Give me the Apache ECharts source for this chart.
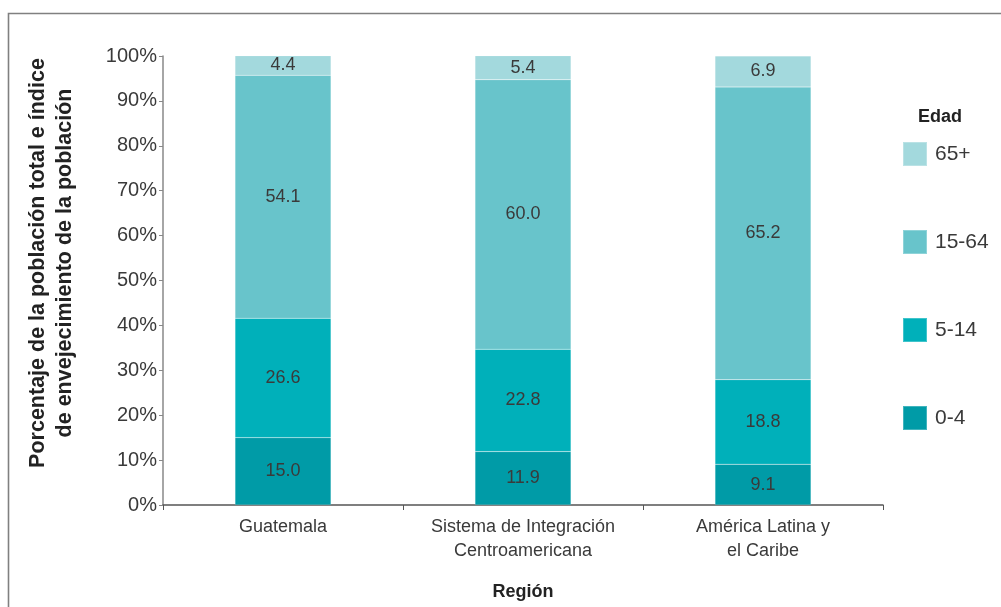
<!DOCTYPE html>
<html>
<head>
<meta charset="utf-8">
<script src="https://cdn.jsdelivr.net/npm/echarts@6/dist/echarts.min.js"></script>
<style>
  html, body { margin: 0; padding: 0; background: #fff; }
  #chart { width: 1001px; height: 607px; }
</style>
</head>
<body>
<div id="chart"></div>
<script>
// Regions and age-group shares (% of total population)
const regions = ['Guatemala', 'Sistema de Integración\nCentroamericana', 'América Latina y\nel Caribe'];
const age0to4 = [15.0, 11.9, 9.1];
const age5to14 = [26.6, 22.8, 18.8];
const age15to64 = [54.1, 60.0, 65.2];
const age65plus = [4.4, 5.4, 6.9];
const yTicks = [0, 10, 20, 30, 40, 50, 60, 70, 80, 90, 100];

const FONT = '"Liberation Sans", Arial, sans-serif';
const TEXT = '#3a3a3a';

const groups = [
  { name: '0-4', data: age0to4, color: '#009ba7' },
  { name: '5-14', data: age5to14, color: '#00b0ba' },
  { name: '15-64', data: age15to64, color: '#68c4cb' },
  { name: '65+', data: age65plus, color: '#a3d9dd' }
];

const chart = echarts.init(document.getElementById('chart'), null, { renderer: 'canvas' });

chart.setOption({
  animation: false,
  backgroundColor: '#fff',
  grid: { left: 163, right: 118, top: 56, bottom: 102, containLabel: false },
  legend: {
    orient: 'vertical',
    left: 902,
    top: 141,
    padding: 0,
    itemWidth: 24,
    itemHeight: 24,
    itemGap: 62,
    icon: 'rect',
    data: ['65+', '15-64', '5-14', '0-4'],
    textStyle: { fontFamily: FONT, fontSize: 21, color: TEXT, lineHeight: 24, padding: [0, 0, 0, 3] },
    selectedMode: false
  },
  xAxis: {
    type: 'category',
    data: regions,
    axisLine: { lineStyle: { color: '#555', width: 1.5 } },
    axisTick: { show: true, alignWithLabel: false, length: 5, lineStyle: { color: '#555' } },
    axisLabel: { fontFamily: FONT, fontSize: 18, color: TEXT, lineHeight: 24, margin: 10 },
    name: 'Región',
    nameLocation: 'middle',
    nameGap: 78,
    nameTextStyle: { fontFamily: FONT, fontWeight: 'bold', fontSize: 18, color: '#222' }
  },
  yAxis: {
    type: 'value',
    min: 0,
    max: 100,
    interval: 10,
    axisLine: { show: true, lineStyle: { color: '#888', width: 1.5 } },
    axisTick: { show: true, length: 4, lineStyle: { color: '#888' } },
    splitLine: { show: false },
    axisLabel: {
      fontFamily: FONT, fontSize: 20, color: TEXT, margin: 6,
      formatter: v => (yTicks.includes(v) ? v + '%' : '')
    }
  },
  graphic: [
    {
      type: 'polyline',
      shape: { points: [[8.5, 620], [8.5, 13.5], [1010, 13.5]] },
      style: { stroke: '#808080', lineWidth: 1.6, fill: null },
      silent: true
    },
    {
      type: 'text',
      x: 52,
      y: 263,
      rotation: Math.PI / 2,
      style: {
        text: 'Porcentaje de la población total e índice\nde envejecimiento de la población',
        font: 'bold 21.5px ' + FONT,
        fill: '#222',
        align: 'center',
        verticalAlign: 'middle',
        lineHeight: 27
      },
      silent: true
    },
    {
      type: 'text',
      x: 940,
      y: 117,
      style: {
        text: 'Edad',
        font: 'bold 18px ' + FONT,
        fill: '#222',
        align: 'center',
        verticalAlign: 'middle'
      },
      silent: true
    }
  ],
  series: groups.map(g => ({
    name: g.name,
    type: 'bar',
    stack: 'total',
    barWidth: '40%',
    data: g.data,
    itemStyle: { color: g.color, borderColor: 'rgba(255,255,255,0.25)', borderWidth: 0.5 },
    label: {
      show: true,
      position: 'inside',
      fontFamily: FONT,
      fontSize: 18,
      color: TEXT,
      formatter: p => p.value.toFixed(1)
    }
  }))
});
</script>
</body>
</html>
